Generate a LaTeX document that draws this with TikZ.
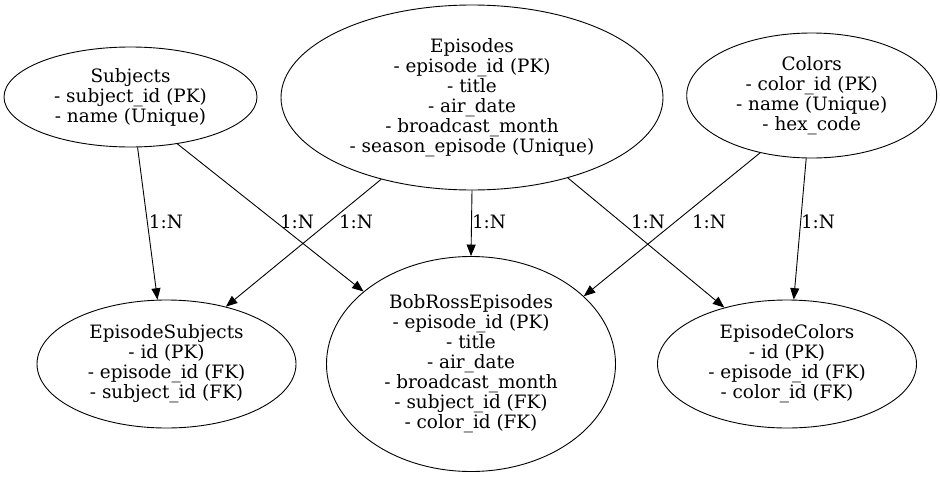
\documentclass[tikz,border=0pt]{standalone}
\usepackage{fontspec}
\setmainfont{DejaVu Serif}
\usepackage{tikz}
\usetikzlibrary{arrows.meta,positioning,shapes.geometric}
\tikzset{
  ent/.style={ellipse, draw, line width=0.9pt, inner sep=0pt, align=center, font=\fontsize{18.4}{20}\selectfont},
  flow/.style={-{Triangle[length=11.5pt,width=9pt]}, line width=0.9pt},
  card/.style={font=\fontsize{18.4}{20}\selectfont, inner sep=1pt}
}
\begin{document}
\begin{tikzpicture}[x=1pt,y=-1pt]
  \useasboundingbox (0,0) rectangle (940,477);
  % top row
  \node[ent,minimum width=253pt,minimum height=100pt] (subj) at (130.5,97)
    {Subjects\\- subject\_id (PK)\\- name (Unique)};
  \node[ent,minimum width=382pt,minimum height=185pt] (epi) at (472,97.5)
    {Episodes\\- episode\_id (PK)\\- title\\- air\_date\\- broadcast\_month\\- season\_episode (Unique)};
  \node[ent,minimum width=250pt,minimum height=125pt] (col) at (811.7,95.5)
    {Colors\\- color\_id (PK)\\- name (Unique)\\- hex\_code};
  % bottom row
  \node[ent,minimum width=259pt,minimum height=128pt] (esub) at (166.5,364)
    {EpisodeSubjects\\- id (PK)\\- episode\_id (FK)\\- subject\_id (FK)};
  \node[ent,minimum width=289pt,minimum height=215pt] (bre) at (471,364)
    {BobRossEpisodes\\- episode\_id (PK)\\- title\\- air\_date\\- broadcast\_month\\- subject\_id (FK)\\- color\_id (FK)};
  \node[ent,minimum width=259pt,minimum height=128pt] (ecol) at (787,364)
    {EpisodeColors\\- id (PK)\\- episode\_id (FK)\\- color\_id (FK)};
  % relations
  \draw[flow] (subj.-82) -- (esub.98.4) node[card] at (166,222) {1:N};
  \draw[flow] (subj.-45.5) -- (bre.146.7) node[card] at (297,222) {1:N};
  \draw[flow] (epi.-138.8) -- (esub.44.3) node[card] at (356,222) {1:N};
  \draw[flow] (epi.-90) -- (bre.90) node[card] at (489,222) {1:N};
  \draw[flow] (epi.-40.4) -- (ecol.138.8) node[card] at (648,222) {1:N};
  \draw[flow] (col.-132.7) -- (bre.31.3) node[card] at (709,222) {1:N};
  \draw[flow] (col.-95.8) -- (ecol.84.6) node[card] at (818,222) {1:N};
\end{tikzpicture}
\end{document}
